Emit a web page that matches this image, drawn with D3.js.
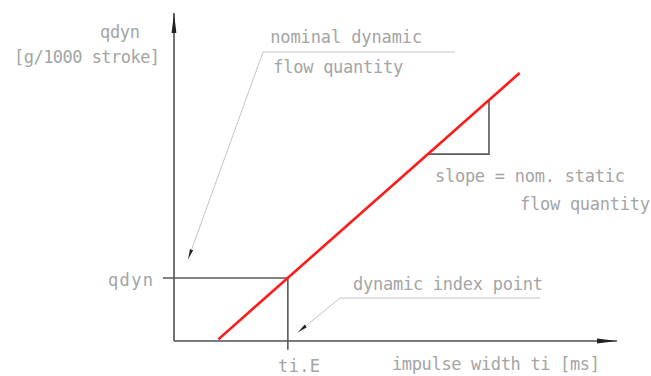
<!DOCTYPE html>
<html lang="en">
<head>
<meta charset="utf-8">
<title>qdyn vs impulse width</title>
<script src="https://cdnjs.cloudflare.com/ajax/libs/d3/7.8.5/d3.min.js"></script>
<style>
body { margin: 0; background: #fff; }
.lbl { font-family: "DejaVu Sans Mono", monospace; font-size: 17px; fill: #a4a4a4; }
.axis { stroke: #505050; stroke-width: 1.6; fill: none; }
.guide { stroke: #5a5a5a; stroke-width: 1.6; fill: none; }
.leader { stroke: #c4c4c4; stroke-width: 1; fill: none; }
</style>
</head>
<body>
<div id="chart"></div>
<script>

// axis extents (arbitrary units, schematic)
var xDomain = [0, 10];
var yDomain = [0, 10];

// characteristic: qdyn over ti
var flowLine = [[1.0, 0.05], [7.8, 8.17]];

// dynamic index point (ti.E, qdyn)
var indexPoint = [2.57, 1.92];

// slope triangle on the characteristic
var slopeX = [5.73, 7.11];

// leader lines (last point = arrow tip)
var leaderNominal = [[6.34, 8.81], [2.01, 8.81], [0.32, 2.50]];
var leaderIndex = [[8.26, 1.31], [3.75, 1.31], [2.80, 0.27]];

// texts
var yTitle = ["qdyn", "[g/1000 stroke]"];
var xTitle = "impulse width ti [ms]";
var nominalText = ["nominal dynamic", "flow quantity"];
var slopeText = ["slope = nom. static", "flow quantity"];
var indexText = "dynamic index point";
var tickLabels = { q: "qdyn", t: "ti.E" };

var width = 651, height = 376;

var x = d3.scaleLinear().domain(xDomain).range([174, 617]);
var y = d3.scaleLinear().domain(yDomain).range([341, 13]);

var svg = d3.select("#chart").append("svg")
    .attr("width", width)
    .attr("height", height);

var defs = svg.append("defs");

defs.append("marker")
    .attr("id", "axisArrow")
    .attr("viewBox", "0 0 20 6")
    .attr("refX", 20).attr("refY", 3)
    .attr("markerUnits", "userSpaceOnUse")
    .attr("markerWidth", 20).attr("markerHeight", 6)
    .attr("orient", "auto")
    .append("path")
        .attr("d", "M0,0.6 L20,3 L0,5.4 Z")
        .attr("fill", "#222");

defs.append("marker")
    .attr("id", "leaderArrow")
    .attr("viewBox", "0 0 10 4")
    .attr("refX", 10).attr("refY", 2)
    .attr("markerUnits", "userSpaceOnUse")
    .attr("markerWidth", 10).attr("markerHeight", 4)
    .attr("orient", "auto")
    .append("path")
        .attr("d", "M0,0.3 L10,2 L0,3.7 Z")
        .attr("fill", "#222");

var line = d3.line()
    .x(function(d) { return x(d[0]); })
    .y(function(d) { return y(d[1]); });

// axes
svg.append("path")
    .attr("class", "axis")
    .attr("d", line([[xDomain[0], yDomain[0]], [xDomain[1], yDomain[0]]]))
    .attr("marker-end", "url(#axisArrow)");

svg.append("path")
    .attr("class", "axis")
    .attr("d", line([[xDomain[0], yDomain[0]], [xDomain[0], yDomain[1]]]))
    .attr("marker-end", "url(#axisArrow)");

// index point guides
svg.append("path")
    .attr("class", "guide")
    .attr("d", line([[-0.25, indexPoint[1]], [indexPoint[0], indexPoint[1]], [indexPoint[0], -0.27]]));

// slope triangle
var fy = d3.scaleLinear().domain([flowLine[0][0], flowLine[1][0]]).range([flowLine[0][1], flowLine[1][1]]);
svg.append("path")
    .attr("class", "guide")
    .attr("d", line([[slopeX[0], fy(slopeX[0])], [slopeX[1], fy(slopeX[0])], [slopeX[1], fy(slopeX[1])]]));

// characteristic
svg.append("path")
    .attr("d", line(flowLine))
    .attr("fill", "none")
    .attr("stroke", "#ff1a1a")
    .attr("stroke-width", 2.6);

// leaders
[leaderNominal, leaderIndex].forEach(function(pts) {
    svg.append("path")
        .attr("class", "leader")
        .attr("d", line(pts))
        .attr("marker-end", "url(#leaderArrow)");
});

// labels
function label(text, px, py, len) {
    svg.append("text")
        .attr("class", "lbl")
        .attr("x", x(px))
        .attr("y", y(py))
        .attr("textLength", len)
        .attr("lengthAdjust", "spacing")
        .text(text);
}

label(yTitle[0], -1.67, 9.24, 40);
label(yTitle[1], -3.61, 8.48, 146);
label(nominalText[0], 2.17, 9.09, 152);
label(nominalText[1], 2.24, 8.17, 130);
label(slopeText[0], 5.89, 4.85, 190);
label(slopeText[1], 7.81, 4.0, 130);
label(indexText, 4.04, 1.55, 190);
label(tickLabels.q, -1.49, 1.68, 45);
label(tickLabels.t, 2.35, -0.95, 42);
label(xTitle, 4.92, -0.88, 208);

</script>
</body>
</html>
